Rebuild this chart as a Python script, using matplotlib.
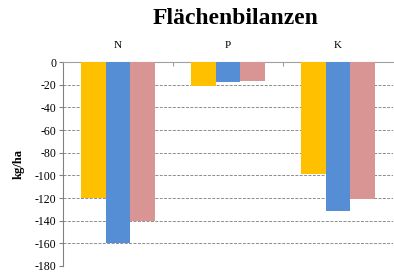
import numpy as np
import matplotlib.pyplot as plt

categories = ['N', 'P', 'K']
series_a = [-120, -21.5, -99]
series_b = [-160, -17.5, -131.5]
series_c = [-140, -16.5, -121]
colors = ['#FFC000', '#558ED5', '#D99594']

plt.rcParams['font.family'] = 'Liberation Serif'

fig = plt.figure(figsize=(3.94, 2.74), dpi=100)
ax = fig.add_axes([63/394, 8/274, 330/394, 204/274])

x = np.arange(len(categories))
w = 0.223
for off, vals, c in zip([-w, 0, w], [series_a, series_b, series_c], colors):
    ax.bar(x + off, vals, width=w, color=c, zorder=3)

ax.set_xlim(-0.5, 2.5)
ax.set_ylim(-180, 0)
ax.set_yticks(np.arange(-180, 1, 20))
ax.set_yticklabels([str(v) for v in range(-180, 1, 20)], fontsize=8.5)
ax.yaxis.grid(True, linestyle=(0, (3, 1.5)), color='#8c8c8c', linewidth=0.7, zorder=0)

ax.xaxis.tick_top()
ax.set_xticks([0.5, 1.5], minor=False)
ax.set_xticklabels([])
ax.tick_params(axis='x', direction='in', length=3, color='#a0a0a0')
ax.tick_params(axis='y', length=3, color='#808080', pad=2)
for i, cat in enumerate(categories):
    ax.text(i, 1.06, cat, transform=ax.get_xaxis_transform(), ha='center',
            va='bottom', fontsize=8)

for s in ['right', 'bottom']:
    ax.spines[s].set_visible(False)
ax.spines['top'].set_color('#a0a0a0')
ax.spines['left'].set_color('#808080')

ax.set_ylabel('kg/ha', fontsize=9, fontweight='bold', labelpad=7)
fig.text(236/394, 1 - 18/274, 'Flächenbilanzen', ha='center', va='center',
         fontsize=17, fontweight='bold')

fig.savefig('out.png', dpi=100)
